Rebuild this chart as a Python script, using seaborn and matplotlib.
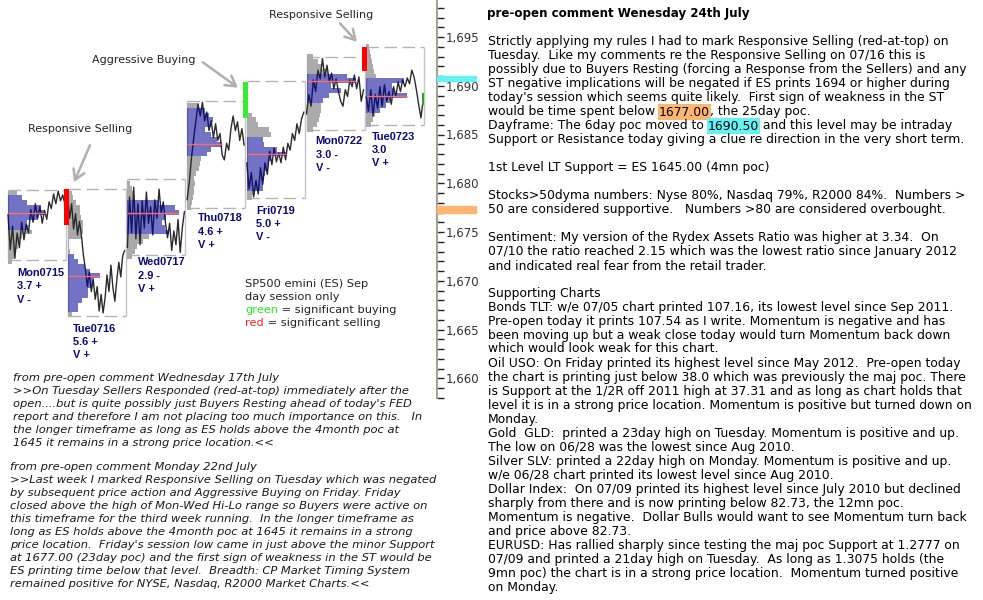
import numpy as np
import pandas as pd
import matplotlib
matplotlib.use('Agg')
import matplotlib.pyplot as plt
from matplotlib.ticker import MultipleLocator, FuncFormatter
import seaborn as sns

# ---- data ----
days = ['Mon0715', 'Tue0716', 'Wed0717', 'Thu0718', 'Fri0719', 'Mon0722', 'Tue0723']
day_range = ['3.7 +', '5.6 +', '2.9 -', '4.6 +', '5.0 +', '3.0 -', '3.0']
day_vol = ['V -', 'V +', 'V +', 'V +', 'V -', 'V -', 'V +']
day_high = [1679.3, 1679.4, 1680.4, 1688.4, 1690.5, 1692.9, 1694.0]
day_low = [1672.1, 1666.4, 1672.6, 1677.5, 1678.5, 1685.5, 1686.0]

mon0715 = [1676.8, 1673.2, 1675.6, 1672.3, 1674.9, 1673.4, 1676.0, 1674.2, 1675.8, 1674.9, 1677.3, 1676.0, 1677.9,
           1676.4, 1677.6, 1675.9, 1677.2, 1676.3, 1678.1, 1677.4, 1678.9, 1677.9, 1679.2, 1678.2, 1678.8, 1677.8]
tue0716 = [1678.6, 1676.4, 1677.9, 1675.3, 1676.9, 1674.7, 1676.1, 1674.6, 1672.6, 1671.2, 1669.4, 1670.9, 1668.9,
           1670.1, 1668.1, 1669.4, 1666.9, 1668.6, 1666.7, 1668.2, 1670.6, 1668.9, 1671.6, 1669.3, 1667.9, 1670.1,
           1671.9, 1670.4, 1672.6, 1673.1]
wed0717 = [1673.4, 1678.6, 1674.9, 1679.6, 1674.3, 1677.9, 1673.7, 1678.2, 1675.4, 1679.1, 1675.9, 1677.6, 1674.7,
           1678.3, 1676.4, 1679.4, 1676.9, 1678.1, 1676.0, 1674.4, 1675.9, 1673.1, 1675.1, 1673.7, 1676.3, 1672.9,
           1675.4, 1677.1]
thu0718 = [1678.3, 1680.1, 1682.6, 1684.6, 1686.4, 1688.1, 1686.9, 1688.3, 1686.4, 1687.3, 1685.4, 1686.4, 1684.7,
           1686.1, 1684.4, 1685.1, 1682.9, 1682.4, 1684.1, 1683.4, 1685.6, 1686.9, 1685.4, 1686.3, 1684.4, 1685.6,
           1683.9]
fri0719 = [1682.1, 1679.4, 1681.1, 1678.6, 1680.3, 1678.9, 1681.6, 1679.9, 1682.1, 1680.9, 1683.3, 1681.9, 1683.6,
           1682.2, 1683.1, 1682.1, 1683.7, 1682.4, 1684.1, 1683.4, 1685.1, 1684.4, 1686.1, 1685.1, 1686.6, 1687.3]
mon0722 = [1687.1, 1689.1, 1687.9, 1690.6, 1689.4, 1691.6, 1690.7, 1692.8, 1690.9, 1692.1, 1690.4, 1691.3, 1689.7,
           1690.7, 1689.4, 1688.4, 1687.9, 1689.6, 1688.9, 1690.6, 1689.9, 1691.1, 1689.7, 1690.9, 1688.4, 1689.6]
tue0723 = [1688.9, 1687.4, 1689.6, 1686.9, 1689.1, 1687.7, 1689.9, 1687.9, 1690.1, 1688.4, 1689.4, 1688.1, 1689.9,
           1688.9, 1690.4, 1689.4, 1690.6, 1689.9, 1690.8, 1690.2, 1691.6, 1690.9, 1689.6, 1688.1, 1686.7, 1688.6]
day_prices = [mon0715, tue0716, wed0717, thu0718, fri0719, mon0722, tue0723]

# volume profiles: lowest level, widths every 0.5 point, value area, poc
prof_low = [1672.0, 1666.5, 1672.5, 1677.5, 1678.5, 1685.5, 1686.0]
prof_widths = [
    [4, 6, 8, 10, 12, 14, 24, 20, 19, 30, 37, 33, 19, 14, 9],
    [4, 10, 10, 14, 20, 20, 24, 26, 32, 22, 17, 10, 6, 2, 1, 1, 14, 15, 15, 15, 13, 12, 12, 8, 5, 4],
    [5, 8, 10, 16, 22, 42, 38, 35, 39, 52, 48, 32, 8, 6, 5, 3],
    [4, 5, 6, 7, 7, 8, 7, 9, 12, 13, 14, 20, 24, 35, 30, 24, 18, 24, 26, 22, 18, 12],
    [5, 8, 16, 16, 17, 18, 21, 22, 24, 39, 30, 17, 16, 24, 22, 11, 9, 5],
    [6, 10, 12, 13, 14, 14, 16, 22, 34, 24, 49, 40, 21, 15, 11, 6],
    [5, 7, 9, 14, 20, 24, 41, 28, 26, 38, 10, 8, 7, 6, 5, 4, 3],
]
va_low = [1675.5, 1667.0, 1675.0, 1683.0, 1679.5, 1688.5, 1687.5]
va_high = [1678.5, 1672.5, 1678.0, 1687.5, 1684.5, 1691.0, 1690.5]
poc = [1677.0, 1670.5, 1677.0, 1684.0, 1683.0, 1690.5, 1689.0]

# significant buying / selling bars: day, top, bottom, colour
signal_day = [0, 3, 5, 6]
signal_top = [1679.4, 1690.4, 1694.0, 1689.3]
signal_bottom = [1675.7, 1686.7, 1691.5, 1688.0]
signal_color = ['#ff0000', '#33ee33', '#ff0000', '#22aa22']

cyan_level = 1690.50
orange_level = 1677.00

# ---- layout ----
W, H = 983, 600
day_step = 59.7
day_width = 58
day_start = np.arange(len(days)) * day_step

sns.set_theme(style='white')
plt.rcParams['font.family'] = ['DejaVu Sans']

fig = plt.figure(figsize=(W / 100, H / 100), dpi=100, facecolor='white')
ax_h = 398
ax = fig.add_axes([0, 1 - ax_h / H, 437 / W, ax_h / H])
ax.set_facecolor('white')
ax.set_xlim(-8, 429)
ax.set_ylim(1695 - (ax_h - 37) / 9.75, 1695 + 37 / 9.75)

# profiles (gray outside value area, translucent blue inside)
for i in range(len(days)):
    levels = prof_low[i] + 0.5 * np.arange(len(prof_widths[i]))
    widths = np.array(prof_widths[i])
    inside = (levels >= va_low[i]) & (levels <= va_high[i])
    ax.barh(levels[~inside], widths[~inside], left=day_start[i], height=0.5,
            color='#aaaaaa', linewidth=0, zorder=1)
    ax.barh(levels[inside], widths[inside], left=day_start[i], height=0.5,
            color='#000096', alpha=0.55, linewidth=0, zorder=3)
    pw = widths[np.argmin(np.abs(levels - poc[i]))]
    ax.hlines(poc[i], day_start[i], day_start[i] + pw, color='#ff6a6a', lw=1, zorder=4)

# price lines
rows = []
for i, p in enumerate(day_prices):
    xs = day_start[i] + np.arange(len(p)) * (day_width - 1) / (len(p) - 1)
    for x, v in zip(xs, p):
        rows.append({'day': days[i], 'x': x, 'price': v})
df = pd.DataFrame(rows)
sns.lineplot(data=df, x='x', y='price', units='day', estimator=None, sort=False,
             color='#2b2b2b', lw=1.0, ax=ax, zorder=2)

# day boxes
for i in range(len(days)):
    x0, x1 = day_start[i], day_start[i] + day_width
    for yy in (day_high[i], day_low[i]):
        ax.plot([x0, x1], [yy, yy], color='#b4b4b4', lw=1, dashes=(9, 4), zorder=0.5)
    ax.vlines([x0, x1], day_low[i], day_high[i], color='#c4c4c4', lw=1, zorder=0.5)

# signal bars
for d, t, b, c in zip(signal_day, signal_top, signal_bottom, signal_color):
    w = 2 if c == '#22aa22' else 5
    ax.bar(day_start[d] + 55.5 + w / 2, t - b, bottom=b, width=w, color=c, linewidth=0, zorder=5)

# day labels
label_dx = [9, 5.3, 10.6, 11, 9, 9, 6]
label_top = [1671.3, 1665.6, 1672.4, 1676.9, 1677.7, 1684.8, 1685.3]
for i in range(len(days)):
    ax.text(day_start[i] + label_dx[i], label_top[i], f'{days[i]}\n{day_range[i]}\n{day_vol[i]}',
            color='#0a0a78', fontsize=7.9, fontweight='bold', family=['Liberation Sans'],
            va='top', ha='left', linespacing=1.42, zorder=6)

# annotations
arrow = dict(arrowstyle='->,head_length=0.6,head_width=0.35', color='#b0b0b0', lw=1.8, shrinkA=0, shrinkB=0)
ax.annotate('', xy=(66, 1680.1), xytext=(82, 1683.9), arrowprops=arrow)
ax.text(72, 1685.6, 'Responsive Selling', fontsize=8, color='#222222', ha='center', va='center')
ax.annotate('', xy=(230, 1689.8), xytext=(195, 1692.4), arrowprops=arrow)
ax.text(136, 1692.6, 'Aggressive Buying', fontsize=8, color='#222222', ha='center', va='center')
ax.annotate('', xy=(349, 1694.5), xytext=(332, 1696.4), arrowprops=arrow)
ax.text(313, 1697.3, 'Responsive Selling', fontsize=8, color='#222222', ha='center', va='center')

# level bands on the price axis
ax.axhspan(cyan_level, cyan_level + 0.55, xmin=1.0, xmax=1.09, color='#66f2f2', clip_on=False, zorder=10)
ax.axhspan(orange_level, orange_level + 0.7, xmin=1.0, xmax=1.09, color='#fdb56f', clip_on=False, zorder=10)

# axis styling
for s in ['top', 'left', 'bottom']:
    ax.spines[s].set_visible(False)
ax.spines['right'].set_color('#a8a28c')
ax.spines['right'].set_linewidth(1.5)
ax.set_xticks([])
ax.yaxis.tick_right()
ax.yaxis.set_major_locator(MultipleLocator(5))
ax.yaxis.set_minor_locator(MultipleLocator(1))
ax.yaxis.set_major_formatter(FuncFormatter(lambda v, p: f'{v:,.0f}'))
ax.tick_params(axis='y', which='both', length=5, width=1, color='#222222', direction='out', pad=1.5,
               labelsize=8.5, labelcolor='#333333', right=True, left=False)
ax.set_xlabel('')
ax.set_ylabel('')

# ---- text panels (pixel coordinates) ----
tax = fig.add_axes([0, 0, 1, 1])
tax.set_xlim(0, W)
tax.set_ylim(H, 0)
tax.axis('off')


def line_parts(x, y, parts, size, **kw):
    prev = None
    for txt, col, hl in parts:
        box = dict(boxstyle='square,pad=0.1', fc=hl, ec='none') if hl else None
        if prev is None:
            prev = tax.text(x, y, txt, color=col, fontsize=size, va='center', ha='left', bbox=box, **kw)
        else:
            prev = tax.annotate(txt, xy=(1, 0), xycoords=prev, va='bottom', ha='left',
                                color=col, fontsize=size, bbox=box, **kw)


# legend block
legend_fs = 8.2
line_parts(245, 284, [('SP500 emini (ES) Sep', '#222222', None)], legend_fs)
line_parts(245, 297, [('day session only', '#222222', None)], legend_fs)
line_parts(245, 310, [('green', '#22ee22', None), (' = significant buying', '#222222', None)], legend_fs)
line_parts(245, 323, [('red', '#ff2020', None), (' = significant selling', '#222222', None)], legend_fs)

# left italic comments
left_a = [
    'from pre-open comment Wednesday 17th July',
    '>>On Tuesday Sellers Responded (red-at-top) immediately after the',
    "open....but is quite possibly just Buyers Resting ahead of today's FED",
    'report and therefore I am not placing too much importance on this.   In',
    'the longer timeframe as long as ES holds above the 4month poc at',
    '1645 it remains in a strong price location.<<',
]
left_b = [
    'from pre-open comment Monday 22nd July',
    '>>Last week I marked Responsive Selling on Tuesday which was negated',
    'by subsequent price action and Aggressive Buying on Friday. Friday',
    'closed above the high of Mon-Wed Hi-Lo range so Buyers were active on',
    'this timeframe for the third week running.  In the longer timeframe as',
    'long as ES holds above the 4month poc at 1645 it remains in a strong',
    "price location.  Friday's session low came in just above the minor Support",
    'at 1677.00 (23day poc) and the first sign of weakness in the ST would be',
    'ES printing time below that level.  Breadth: CP Market Timing System',
    'remained positive for NYSE, Nasdaq, R2000 Market Charts.<<',
]
for k, t in enumerate(left_a):
    tax.text(13, 378 + 13 * k, t, fontsize=8.25, style='italic', color='#1a1a1a', va='center', ha='left')
for k, t in enumerate(left_b):
    tax.text(10, 467 + 13 * k, t, fontsize=8.25, style='italic', color='#1a1a1a', va='center', ha='left')

# right comment column
rfs = 8.95
tx = 488
tax.text(487, 14, 'pre-open comment Wenesday 24th July', fontsize=8.6, fontweight='bold',
         color='#000000', va='center', ha='left')
para1 = [
    [('Strictly applying my rules I had to mark Responsive Selling (red-at-top) on', '#000', None)],
    [('Tuesday.  Like my comments re the Responsive Selling on 07/16 this is', '#000', None)],
    [('possibly due to Buyers Resting (forcing a Response from the Sellers) and any', '#000', None)],
    [('ST negative implications will be negated if ES prints 1694 or higher during', '#000', None)],
    [("today's session which seems quite likely.  First sign of weakness in the ST", '#000', None)],
    [('would be time spent below ', '#000', None), ('1677.00', '#000', '#fdb56f'),
     (', the 25day poc.', '#000', None)],
    [('Dayframe: The 6day poc moved to ', '#000', None), ('1690.50', '#000', '#66f2f2'),
     (' and this level may be intraday', '#000', None)],
    [('Support or Resistance today giving a clue re direction in the very short term.', '#000', None)],
]
for k, parts in enumerate(para1):
    line_parts(tx, 42 + 14 * k, parts, rfs)

blocks = [
    (167, ['1st Level LT Support = ES 1645.00 (4mn poc)']),
    (195, ['Stocks>50dyma numbers: Nyse 80%, Nasdaq 79%, R2000 84%.  Numbers >',
           '50 are considered supportive.   Numbers >80 are considered overbought.']),
    (238, ['Sentiment: My version of the Rydex Assets Ratio was higher at 3.34.  On',
           '07/10 the ratio reached 2.15 which was the lowest ratio since January 2012',
           'and indicated real fear from the retail trader.']),
    (293, ['Supporting Charts',
           'Bonds TLT: w/e 07/05 chart printed 107.16, its lowest level since Sep 2011.',
           'Pre-open today it prints 107.54 as I write. Momentum is negative and has',
           'been moving up but a weak close today would turn Momentum back down',
           'which would look weak for this chart.',
           'Oil USO: On Friday printed its highest level since May 2012.  Pre-open today',
           'the chart is printing just below 38.0 which was previously the maj poc. There',
           'is Support at the 1/2R off 2011 high at 37.31 and as long as chart holds that',
           'level it is in a strong price location. Momentum is positive but turned down on',
           'Monday.',
           'Gold  GLD:  printed a 23day high on Tuesday. Momentum is positive and up.',
           'The low on 06/28 was the lowest since Aug 2010.',
           'Silver SLV: printed a 22day high on Monday. Momentum is positive and up.',
           'w/e 06/28 chart printed its lowest level since Aug 2010.',
           'Dollar Index:  On 07/09 printed its highest level since July 2010 but declined',
           'sharply from there and is now printing below 82.73, the 12mn poc.',
           'Momentum is negative.  Dollar Bulls would want to see Momentum turn back',
           'and price above 82.73.',
           'EURUSD: Has rallied sharply since testing the maj poc Support at 1.2777 on',
           '07/09 and printed a 21day high on Tuesday.  As long as 1.3075 holds (the',
           '9mn poc) the chart is in a strong price location.  Momentum turned positive',
           'on Monday.']),
]
for y0, lines in blocks:
    for k, t in enumerate(lines):
        tax.text(tx, y0 + 14 * k, t, fontsize=rfs, color='#000000', va='center', ha='left')

fig.savefig('out.png', dpi=100, facecolor='white')
